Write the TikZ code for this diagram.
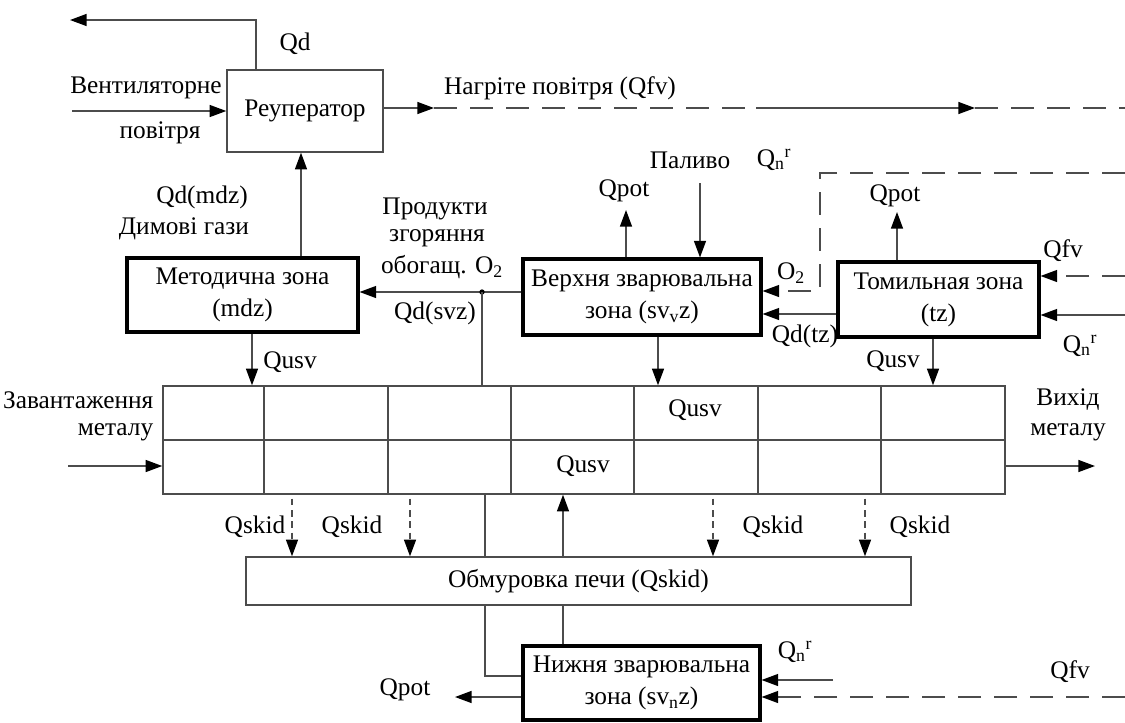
\documentclass[tikz,border=0pt]{standalone}
\usepackage{fontspec}
\setmainfont{Liberation Serif}
\usetikzlibrary{arrows.meta}

\tikzset{every picture/.style={line width=1.1pt}}
\tikzset{
	zone/.style={draw=black, line width=2.3pt, align=center, inner sep=0pt},
	plainbox/.style={draw=black!70, align=center, inner sep=0pt},
	arr/.style={draw=black!70, -{Triangle[length=12.5pt,width=9pt,color=black]}},
	dashline/.style={draw=black!70, dash pattern=on 17pt off 10pt},
	dasharr/.style={dashline, -{Triangle[length=12.5pt,width=9pt,color=black]}},
	skidarr/.style={draw=black!70, dash pattern=on 5pt off 3.5pt, shorten <=3pt, -{Triangle[length=12.5pt,width=9pt,color=black]}},
	lbl/.style={inner sep=0pt},
}
\newcommand{\qnr}{Q\textsubscript{n}\textsuperscript{r}}

\begin{document}
\begin{tikzpicture}[x=0.75pt,y=0.75pt,yscale=-1,xscale=1,font=\fontsize{19}{24}\selectfont]
	\useasboundingbox (0,0) rectangle (1125,722);
	
	% Boxes
	\node[plainbox, minimum width=117pt, minimum height=61.5pt] (recup) at (305,111) {Реуператор};
	\node[zone, minimum width=173.25pt, minimum height=55.5pt] (mdz) at (242.5,295) {Методична зона\\(mdz)};
	\node[zone, minimum width=178.5pt, minimum height=57pt] (svvz) at (642,297) {Верхня зварювальна\\зона (sv\textsubscript{v}z)};
	\node[zone, minimum width=150.75pt, minimum height=56.25pt] (tz) at (938.5,299.5) {Томильная зона\\(tz)};
	\node[plainbox, minimum width=631.5pt, minimum height=81pt] (bars) at (584,440) {};
	\node[plainbox, minimum width=498.75pt, minimum height=36pt] (obm) at (578.5,581) {Обмуровка печи (Qskid)};
	\node[zone, minimum width=177.75pt, minimum height=55.5pt] (nsvz) at (641.5,683) {Нижня зварювальна\\зона (sv\textsubscript{n}z)};
	
	% Grid of the metal
	\draw[black!70] (bars.west) -- (bars.east);
	\foreach \x in {264,388,511,634,758,881}
		\draw[black!70] (\x,386) -- (\x,494);
	
	% Recuperator
	\coordinate (qdup) at (256,20);
	\coordinate (qdend) at (70,20);
	\draw[arr] (recup.north -| qdup) -- (qdup) -- (qdend);
	\coordinate (venin) at (72,111);
	\draw[arr] (venin) -- (recup.west |- venin);
	
	% Heated air
	\coordinate (hotA) at (434,108);
	\coordinate (hotB) at (756,108);
	\coordinate (hotC) at (975,108);
	\coordinate (hotD) at (1125,108);
	\draw[arr] (recup.east |- hotA) -- (hotA);
	\draw[dashline] (hotA) -- (hotB);
	\draw[arr] (hotB) -- (hotC);
	\draw[dashline] (hotC) -- (hotD);
	
	% Flue gases
	\coordinate (flue) at (301,200);
	\draw[arr] (mdz.north -| flue) -- (recup.south -| flue);
	\coordinate (prod) at (482,292);
	\draw[arr] (svvz.west |- prod) -- (mdz.east |- prod);
	\fill[black] (prod) circle[radius=2pt];
	\draw[black!70] (prod) -- (prod |- bars.north);
	
	% Upper welding zone
	\coordinate (potv) at (626,210);
	\draw[arr] (svvz.north -| potv) -- (potv);
	\coordinate (fuelv) at (700,183);
	\draw[arr] (fuelv) -- (svvz.north -| fuelv);
	
	% Soaking zone
	\coordinate (pott) at (897,212);
	\draw[arr] (tz.north -| pott) -- (pott);
	\coordinate (oxA) at (1125,173);
	\coordinate (oxB) at (820,173);
	\coordinate (oxC) at (820,291);
	\draw[dasharr] (oxA) -- (oxB) -- (oxC) -- (svvz.east |- oxC);
	\coordinate (qdt) at (800,314);
	\draw[arr] (tz.west |- qdt) -- (svvz.east |- qdt);
	\coordinate (fvt) at (1125,276);
	\draw[dasharr] (fvt) -- (tz.east |- fvt);
	\coordinate (qnt) at (1125,315);
	\draw[arr] (qnt) -- (tz.east |- qnt);
	
	% Heat to metal
	\coordinate (usm) at (252,360);
	\draw[arr] (mdz.south -| usm) -- (bars.north -| usm);
	\coordinate (usv) at (658,360);
	\draw[arr] (svvz.south -| usv) -- (bars.north -| usv);
	\coordinate (ust) at (933,360);
	\draw[arr] (tz.south -| ust) -- (bars.north -| ust);
	
	% Metal in and out
	\coordinate (metin) at (68,466);
	\draw[arr] (metin) -- (bars.west |- metin);
	\coordinate (metout) at (1095,466);
	\draw[arr] (bars.east |- metout) -- (metout);
	
	% Skids
	\foreach \x in {292,410,713,865}{
		\coordinate (sk) at (\x,520);
		\draw[skidarr] (bars.south -| sk) -- (obm.north -| sk);
	}
	
	% Lining and lower welding zone
	\coordinate (linA) at (485,676);
	\draw[black!70] (bars.south -| linA) -- (obm.north -| linA);
	\draw[black!70] (obm.south -| linA) -- (linA) -- (nsvz.west |- linA);
	\coordinate (linB) at (563,540);
	\draw[arr] (obm.north -| linB) -- (bars.south -| linB);
	\draw[black!70] (nsvz.north -| linB) -- (obm.south -| linB);
	\coordinate (potn) at (455,697);
	\draw[arr] (nsvz.west |- potn) -- (potn);
	\coordinate (qnn) at (833,680);
	\draw[arr] (qnn) -- (nsvz.east |- qnn);
	\coordinate (fvn) at (1125,697);
	\draw[dasharr] (fvn) -- (nsvz.east |- fvn);
	
	% Text Node
	\node[lbl] (tqd) at (295,44) {Qd};
	\node[lbl] (tven) at (146,88) {Вентиляторне};
	\node[lbl] (tair) at (160,133) {повітря};
	\node[lbl] (thot) at (560,88) {Нагріте повітря (Qfv)};
	\node[lbl] (tqdm) at (202,197) {Qd(mdz)};
	\node[lbl] (tsmoke) at (184,229) {Димові гази};
	\node[lbl] (tprod) at (435,209) {Продукти};
	\node[lbl] (tburn) at (437,238) {згоряння};
	\node[lbl] (tenr) at (442,267) {обогащ. O\textsubscript{2}};
	\node[lbl] (tqds) at (435,313) {Qd(svz)};
	\node[lbl] (tpotv) at (624,191) {Qpot};
	\node[lbl] (tfuel) at (690,160) {Паливо};
	\node[lbl] (tqnv) at (774,160) {\qnr};
	\node[lbl] (tpott) at (895,196) {Qpot};
	\node[lbl] (tox) at (791,273) {O\textsubscript{2}};
	\node[lbl] (tqdt) at (805,336) {Qd(tz)};
	\node[lbl] (tfvt) at (1063,251) {Qfv};
	\node[lbl] (tqnt) at (1080,346) {\qnr};
	\node[lbl] (tust) at (893,361) {Qusv};
	\node[lbl] (tusm) at (290,362) {Qusv};
	\node[lbl, anchor=east] (tload) at (154,400) {Завантаження};
	\node[lbl, anchor=east] (tload2) at (154,432) {металу};
	\node[lbl] (tout) at (1068,400) {Вихід};
	\node[lbl] (tout2) at (1068,432) {металу};
	\node[lbl] (tusv1) at (695,410) {Qusv};
	\node[lbl] (tusv2) at (583,466) {Qusv};
	\node[lbl] (tsk1) at (255,527) {Qskid};
	\node[lbl] (tsk2) at (352,527) {Qskid};
	\node[lbl] (tsk3) at (773,527) {Qskid};
	\node[lbl] (tsk4) at (920,527) {Qskid};
	\node[lbl] (tpotn) at (405,690) {Qpot};
	\node[lbl] (tqnn) at (795,652) {\qnr};
	\node[lbl] (tfvn) at (1070,672) {Qfv};
	
\end{tikzpicture}
\end{document}
